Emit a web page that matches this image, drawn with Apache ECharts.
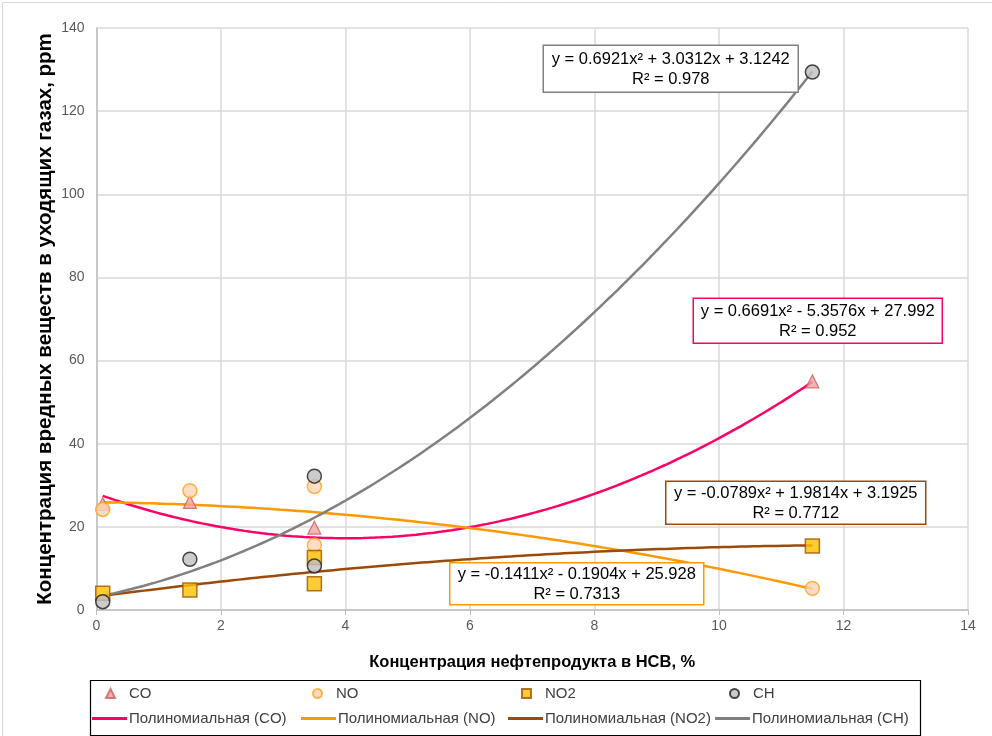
<!DOCTYPE html>
<html>
<head>
<meta charset="utf-8">
<script src="https://cdn.jsdelivr.net/npm/echarts@6/dist/echarts.min.js"></script>
<style>
html,body{margin:0;padding:0;background:#fff;}
#chart{width:992px;height:736px;}
</style>
</head>
<body>
<div id="chart"></div>
<script>
// ---- data ----
const xCO  = [0.1, 1.5, 3.5, 11.5];
const yCO  = [25.5, 26.0, 19.8, 55.0];
const xNO  = [0.1, 1.5, 3.5, 3.5, 11.5];
const yNO  = [24.2, 28.7, 29.7, 15.6, 5.2];
const xNO2 = [0.1, 1.5, 3.5, 3.5, 11.5];
const yNO2 = [4.0, 4.8, 12.6, 6.3, 15.4];
const xCH  = [0.1, 1.5, 3.5, 3.5, 11.5];
const yCH  = [2.0, 12.2, 32.2, 10.6, 129.4];

// trendline coefficients [a, b, c] for y = a x^2 + b x + c (as printed on the chart)
const coefCO  = [0.6691, -5.3576, 27.992];
const coefNO  = [-0.1411, -0.1904, 25.928];
const coefNO2 = [-0.0789, 1.9814, 3.1925];
const coefCH  = [0.6921, 3.0312, 3.1242];
const fitRange = [0.1, 11.5];

const eqCO  = ['y = 0.6691x² - 5.3576x + 27.992', 'R² = 0.952'];
const eqNO  = ['y = -0.1411x² - 0.1904x + 25.928', 'R² = 0.7313'];
const eqNO2 = ['y = -0.0789x² + 1.9814x + 3.1925', 'R² = 0.7712'];
const eqCH  = ['y = 0.6921x² + 3.0312x + 3.1242', 'R² = 0.978'];

const names = ['CO', 'NO', 'NO2', 'CH'];
const trendNames = ['Полиномиальная (CO)', 'Полиномиальная (NO)', 'Полиномиальная (NO2)', 'Полиномиальная (CH)'];
const xTicks = [0, 2, 4, 6, 8, 10, 12, 14];
const yTicks = [0, 20, 40, 60, 80, 100, 120, 140];

// ---- helpers ----
function pairs(xs, ys){ return xs.map((x,i)=>[x, ys[i]]); }
function trend(c){
  const pts = [];
  const n = 120;
  for (let i=0;i<=n;i++){
    const x = fitRange[0] + (fitRange[1]-fitRange[0])*i/n;
    pts.push([x, c[0]*x*x + c[1]*x + c[2]]);
  }
  return pts;
}

const cPink = '#ff0066', cOrange = '#ff9900', cBrown = '#9c4a0a', cGray = '#808080';
const font = '"Liberation Sans", Arial, sans-serif';

function eqBox(lines, cx, cy, w, h, color){
  return {
    type:'group', left: cx - w/2, top: cy - h/2, z: 100,
    children:[
      {type:'rect', z:100, shape:{x:0,y:0,width:w,height:h}, style:{fill:'#fff', stroke:color, lineWidth:1.5}},
      {type:'text', z:101, x:w/2, y:h/2+1, style:{text: lines.join('\n'), font:'16.5px '+font, fill:'#000',
        align:'center', verticalAlign:'middle', lineHeight:20}}
    ]
  };
}

function legendItem(name, left, top, isLine){
  return {
    show:true, left:left, top:top, padding:0, data:[name],
    itemWidth: isLine ? 35 : 9, itemHeight: isLine ? 3 : 9,
    icon: isLine ? 'rect' : undefined,
    itemGap: 0, selectedMode:false,
    textStyle:{fontFamily:font, fontSize:15, color:'#404040', padding: isLine ? [0,0,0,-3] : [0,0,0,9]}
  };
}

const chart = echarts.init(document.getElementById('chart'), null, {renderer:'canvas'});
const option = {
  backgroundColor:'#fff',
  animation:false,
  grid:{left:96.5, right:24, top:28, bottom:126, containLabel:false},
  xAxis:{
    type:'value', min:xTicks[0], max:xTicks[xTicks.length-1], interval:2,
    name:'Концентрация нефтепродукта в НСВ, %', nameLocation:'middle', nameGap:44,
    nameTextStyle:{fontFamily:font, fontWeight:'bold', fontSize:16.5, color:'#000'},
    axisLine:{show:true, lineStyle:{color:'#bfbfbf', width:1.5}},
    axisTick:{show:true, length:5, lineStyle:{color:'#bfbfbf'}},
    axisLabel:{fontFamily:font, fontSize:14, color:'#595959', margin:9},
    splitLine:{show:true, lineStyle:{color:'#d9d9d9', width:1.5}}
  },
  yAxis:{
    type:'value', min:yTicks[0], max:yTicks[yTicks.length-1], interval:20,
    name:'Концентрация вредных веществ в уходящих газах, ppm', nameLocation:'middle', nameGap:41,
    nameMoveOverlap:false,
    nameTextStyle:{fontFamily:font, fontWeight:'bold', fontSize:20.5, color:'#000'},
    axisLine:{show:true, lineStyle:{color:'#bfbfbf', width:1.5}},
    axisTick:{show:false},
    axisLabel:{fontFamily:font, fontSize:14, color:'#595959', margin:12},
    splitLine:{show:true, lineStyle:{color:'#d9d9d9', width:1.5}}
  },
  legend:[
    legendItem(names[0], 105, 686, false),
    legendItem(names[1], 312, 686, false),
    legendItem(names[2], 521, 686, false),
    legendItem(names[3], 729, 686, false),
    legendItem(trendNames[0], 92, 711, true),
    legendItem(trendNames[1], 301, 711, true),
    legendItem(trendNames[2], 508, 711, true),
    legendItem(trendNames[3], 715, 711, true)
  ],
  series:[
    {name:trendNames[0], type:'line', data:trend(coefCO), showSymbol:false, symbol:'none', z:2,
      lineStyle:{color:cPink, width:2.5}, itemStyle:{color:cPink}},
    {name:trendNames[1], type:'line', data:trend(coefNO), showSymbol:false, symbol:'none', z:2,
      lineStyle:{color:cOrange, width:2.5}, itemStyle:{color:cOrange}},
    {name:trendNames[2], type:'line', data:trend(coefNO2), showSymbol:false, symbol:'none', z:2,
      lineStyle:{color:cBrown, width:2.5}, itemStyle:{color:cBrown}},
    {name:trendNames[3], type:'line', data:trend(coefCH), showSymbol:false, symbol:'none', z:2,
      lineStyle:{color:cGray, width:2.5}, itemStyle:{color:cGray}},
    {name:names[0], type:'scatter', data:pairs(xCO,yCO), symbol:'triangle', symbolSize:13, z:3,
      itemStyle:{color:'#f4a3a3', borderColor:'#cc5c5c', borderWidth:1.2}},
    {name:names[1], type:'scatter', data:pairs(xNO,yNO), symbol:'circle', symbolSize:14, z:4,
      itemStyle:{color:'#fcd5b4', borderColor:'#ffa21f', borderWidth:1.5}},
    {name:names[2], type:'scatter', data:pairs(xNO2,yNO2), symbol:'rect', symbolSize:14, z:5,
      itemStyle:{color:'#ffc000', borderColor:'#9c5200', borderWidth:1.5}},
    {name:names[3], type:'scatter', data:pairs(xCH,yCH), symbol:'circle', symbolSize:14, z:6,
      itemStyle:{color:'#bfbfbf', borderColor:'#1a1a1a', borderWidth:1.5}}
  ],
  graphic:[
    {type:'rect', left:0, top:0, z:0, silent:true, shape:{width:991, height:735}, style:{fill:'none', stroke:'#d9d9d9', lineWidth:1}},
    {type:'rect', left:88, top:678, z:1, shape:{width:830, height:55}, style:{fill:'none', stroke:'#000', lineWidth:1.2}},
    eqBox(eqCH, 670, 68, 255, 47, cGray),
    eqBox(eqCO, 817, 320, 249, 45, cPink),
    eqBox(eqNO2, 795, 502, 260, 43, cBrown),
    eqBox(eqNO, 576, 583, 254, 42, cOrange)
  ]
};
chart.setOption(option);
</script>
</body>
</html>
